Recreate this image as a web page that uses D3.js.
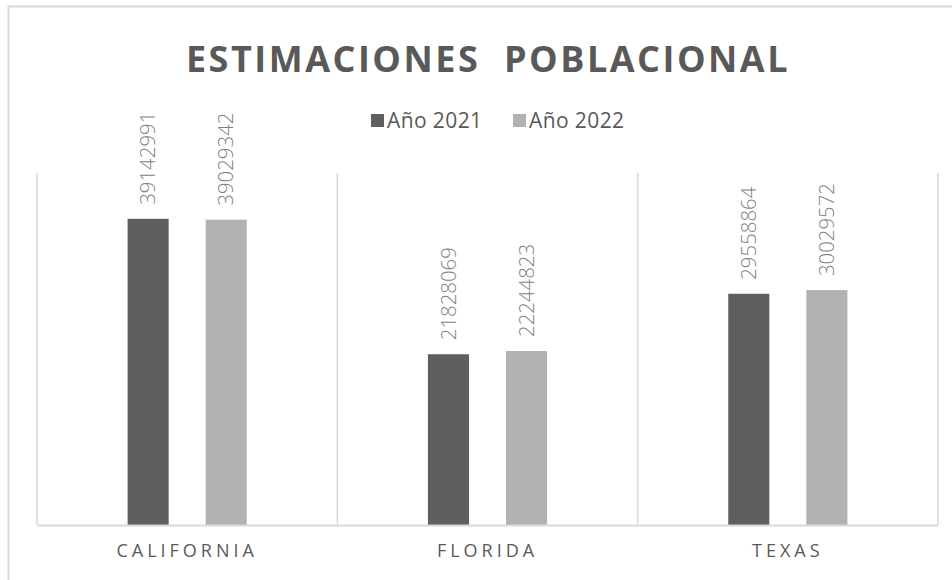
<!DOCTYPE html>
<html>
<head>
<meta charset="utf-8">
<script src="https://cdn.jsdelivr.net/npm/d3@7"></script>
<style>
  body { margin: 0; background: #fff; }
  svg { display: block; font-family: "Open Sans", "Noto Sans", sans-serif; }
</style>
</head>
<body>
<div id="container"></div>
<script>
var states = ["CALIFORNIA", "FLORIDA", "TEXAS"];
var seriesNames = ["Año 2021", "Año 2022"];
var values2021 = [39142991, 21828069, 29558864];
var values2022 = [39029342, 22244823, 30029572];
var yMax = 45000000;

var width = 952,
  height = 580,
  margin = { top: 173, right: 14, bottom: 55, left: 37 },
  colors = ["#5f5f5f", "#b2b2b2"],
  gridColor = "#d9d9d9";

var data = states.map(function (s, i) {
  return { state: s, vals: [values2021[i], values2022[i]] };
});

var svg = d3.select("#container").append("svg")
  .attr("width", width)
  .attr("height", height);

// outer chart frame (only top and left edges show)
svg.append("path")
  .attr("d", "M8.5," + height + "V6.5H" + width)
  .attr("fill", "none")
  .attr("stroke", gridColor)
  .attr("stroke-width", 2);

var x0 = d3.scaleBand()
  .domain(states)
  .range([margin.left, width - margin.right]);

var x1 = d3.scaleBand()
  .domain(seriesNames)
  .range([0, x0.bandwidth()])
  .paddingInner(0.474)
  .paddingOuter(1.16);

var y = d3.scaleLinear()
  .domain([0, yMax])
  .range([height - margin.bottom, margin.top]);

// category separators
var sepX = states.map(function (s) { return x0(s); }).concat([x0.range()[1]]);
svg.append("g").selectAll("line")
  .data(sepX)
  .join("line")
  .attr("x1", function (d) { return d; })
  .attr("x2", function (d) { return d; })
  .attr("y1", y(yMax))
  .attr("y2", y(0))
  .attr("stroke", gridColor)
  .attr("stroke-width", 1.5);

// bars
var groups = svg.append("g").selectAll("g")
  .data(data)
  .join("g")
  .attr("transform", function (d) { return "translate(" + x0(d.state) + ",0)"; });

groups.selectAll("rect")
  .data(function (d) { return d.vals.map(function (v, i) { return { name: seriesNames[i], v: v, i: i }; }); })
  .join("rect")
  .attr("x", function (d) { return x1(d.name); })
  .attr("y", function (d) { return y(d.v); })
  .attr("width", x1.bandwidth())
  .attr("height", function (d) { return y(0) - y(d.v); })
  .attr("fill", function (d) { return colors[d.i]; });

// value labels (rotated)
groups.selectAll("text")
  .data(function (d) { return d.vals.map(function (v, i) { return { name: seriesNames[i], v: v }; }); })
  .join("text")
  .attr("transform", function (d) {
    return "translate(" + (x1(d.name) + x1.bandwidth() / 2) + "," + (y(d.v) - 14) + ") rotate(-90)";
  })
  .attr("dy", "0.35em")
  .attr("fill", "#7f7f7f")
  .style("font-size", "20.4px")
  .style("font-weight", 300)
  .text(function (d) { return d.v; });

// x axis
var xAxis = d3.axisBottom(x0).tickSize(0).tickPadding(19);
var gX = svg.append("g")
  .attr("transform", "translate(0," + y(0) + ")")
  .call(xAxis);
gX.select("path.domain").attr("stroke", gridColor).attr("stroke-width", 2);
gX.selectAll(".tick text")
  .attr("fill", "#595959")
  .style("font-size", "18px")
  .style("letter-spacing", "4px")
  .style("font-family", "'Open Sans', sans-serif");

// title
svg.append("text")
  .attr("x", 488)
  .attr("y", 72)
  .attr("text-anchor", "middle")
  .attr("fill", "#595959")
  .style("font-size", "36px")
  .style("font-weight", "bold")
  .style("letter-spacing", "2.5px")
  .style("white-space", "pre")
  .text("ESTIMACIONES  POBLACIONAL");

// legend
var legend = svg.append("g").attr("transform", "translate(371,121)");
var legItems = legend.selectAll("g")
  .data(seriesNames)
  .join("g")
  .attr("transform", function (d, i) { return "translate(" + i * 142 + ",0)"; });
legItems.append("rect")
  .attr("x", 0)
  .attr("y", -7)
  .attr("width", 13)
  .attr("height", 13)
  .attr("fill", function (d, i) { return colors[i]; });
legItems.append("text")
  .attr("x", 16)
  .attr("dy", "0.35em")
  .attr("fill", "#595959")
  .style("font-size", "21px")
  .style("letter-spacing", "0.4px")
  .text(function (d) { return d; });
</script>
</body>
</html>
